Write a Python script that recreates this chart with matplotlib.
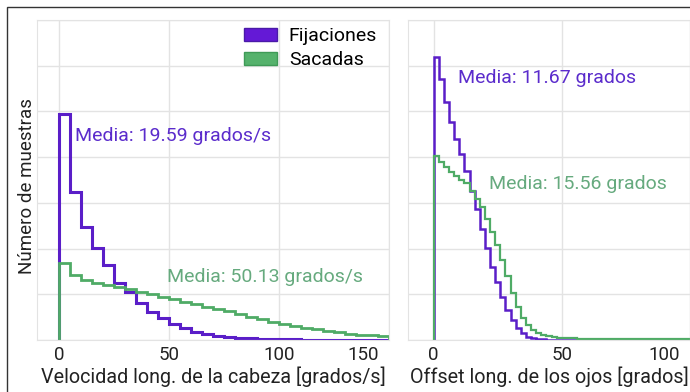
import matplotlib
matplotlib.use('Agg')
import matplotlib.pyplot as plt
import numpy as np
from matplotlib.patches import Patch, Rectangle
from matplotlib.transforms import ScaledTranslation

plt.rcParams['font.family'] = ['Roboto', 'DejaVu Sans']

# ---------------------------------------------------------------- data
# left panel: head velocity, bins of 5 grados/s from 0 to 150
head_edges = np.arange(0, 155, 5)
head_fix = [4.95, 3.24, 2.47, 2.02, 1.63, 1.25, 1.04, 0.82, 0.62, 0.48,
            0.35, 0.26, 0.18, 0.13, 0.09, 0.06, 0.045, 0.035, 0.025, 0.02,
            0.015, 0.012, 0.01, 0.008, 0.007, 0.006, 0.005, 0.005, 0.004, 0.004]
head_sac = [1.69, 1.43, 1.32, 1.25, 1.21, 1.16, 1.11, 1.06, 1.01, 0.95,
            0.90, 0.84, 0.79, 0.73, 0.68, 0.63, 0.57, 0.51, 0.46, 0.40,
            0.35, 0.31, 0.26, 0.23, 0.20, 0.17, 0.14, 0.12, 0.10, 0.08]

# right panel: eye offset, bins of 2 grados from 0 to 100
eye_edges = np.arange(0, 102, 2)
eye_fix = [6.19, 5.71, 5.21, 4.77, 4.40, 4.07, 3.69, 3.25, 2.86, 2.42,
           2.02, 1.60, 1.27, 0.95, 0.66, 0.44, 0.26, 0.15, 0.07, 0.04,
           0.025, 0.015, 0.01, 0.008, 0.006] + [0.005] * 25
eye_sac = [4.02, 3.89, 3.78, 3.67, 3.58, 3.50, 3.44, 3.25, 3.08, 2.90,
           2.64, 2.37, 2.08, 1.76, 1.39, 1.03, 0.73, 0.48, 0.33, 0.22,
           0.15, 0.11, 0.08, 0.06, 0.05, 0.045, 0.04, 0.035, 0.03, 0.03] + [0.025] * 20

head_means = ('Media: 19.59 grados/s', 'Media: 50.13 grados/s')
eye_means = ('Media: 11.67 grados', 'Media: 15.56 grados')
series_names = ('Fijaciones', 'Sacadas')

purple = '#5a1ec8'
green = '#4fab66'
purple_txt = '#5b2ccc'
green_txt = '#66aa7e'
grid_c = '#e3e3e3'
text_c = '#222222'

fig = plt.figure(figsize=(6.9, 3.92), dpi=100)

# outer frame (only left and top edges are visible in the original)
fig.add_artist(Rectangle((0.0101, -0.05), 1.2, 0.982 + 0.05, transform=fig.transFigure,
                         fill=False, edgecolor='#333333', linewidth=1.0))

ax1 = fig.add_axes([37 / 690, 1 - 340 / 392, 352 / 690, 320 / 392])
ax2 = fig.add_axes([408 / 690, 1 - 340 / 392, 282 / 690, 320 / 392])


def style(ax, xlim, ticks):
    ax.set_xlim(*xlim)
    ax.set_ylim(0, 7)
    ax.set_xticks(ticks)
    ax.set_yticks(np.arange(0, 8, 1))
    ax.set_yticklabels([])
    ax.grid(True, color=grid_c, linewidth=1.0)
    ax.set_axisbelow(True)
    ax.tick_params(length=0, labelsize=13.5, colors=text_c, pad=4)
    for s in ax.spines.values():
        s.set_color(grid_c)
    # last tick label is pulled inside the plot area
    last = ax.get_xticklabels()[-1]
    last.set_transform(last.get_transform() + ScaledTranslation(-0.1, 0, fig.dpi_scale_trans))
    last.set_horizontalalignment('right')


# ---------------------------------------------------------------- left panel
ax1.stairs(head_fix, head_edges, color=purple, linewidth=2.2, baseline=0)
ax1.stairs(head_sac, head_edges, color=green, linewidth=2.0, baseline=0)
style(ax1, (-10, 150), [0, 50, 100, 150])
ax1.set_xlabel('Velocidad long. de la cabeza [grados/s]', fontsize=14.2, color=text_c, labelpad=2)
ax1.set_ylabel('Número de muestras', fontsize=13.5, color=text_c)
ax1.yaxis.set_label_coords(-0.004, 0.48)
ax1.text(7.3, 4.46, head_means[0], color=purple_txt, fontsize=14, va='center')
ax1.text(49, 1.38, head_means[1], color=green_txt, fontsize=14, va='center')

handles = [Patch(facecolor='#6419d6', edgecolor='#4a1aa8', linewidth=1),
           Patch(facecolor='#55b26c', edgecolor='#3f9a57', linewidth=1)]
ax1.legend(handles, series_names, loc='upper right', bbox_to_anchor=(1.005, 1.02),
           frameon=False, fontsize=14, handlelength=1.7, handleheight=0.65,
           handletextpad=0.6, labelspacing=0.3, borderaxespad=0.3)

# ---------------------------------------------------------------- right panel
ax2.stairs(eye_fix, eye_edges, color=purple, linewidth=1.8, baseline=0)
ax2.stairs(eye_sac, eye_edges, color=green, linewidth=1.6, baseline=0)
style(ax2, (-10, 100), [0, 50, 100])
ax2.set_xlabel('Offset long. de los ojos [grados]', fontsize=14.2, color=text_c, labelpad=2)
ax2.text(9.4, 5.74, eye_means[0], color=purple_txt, fontsize=14, va='center')
ax2.text(21.5, 3.41, eye_means[1], color=green_txt, fontsize=14, va='center')

fig.savefig('out.png', dpi=100)
